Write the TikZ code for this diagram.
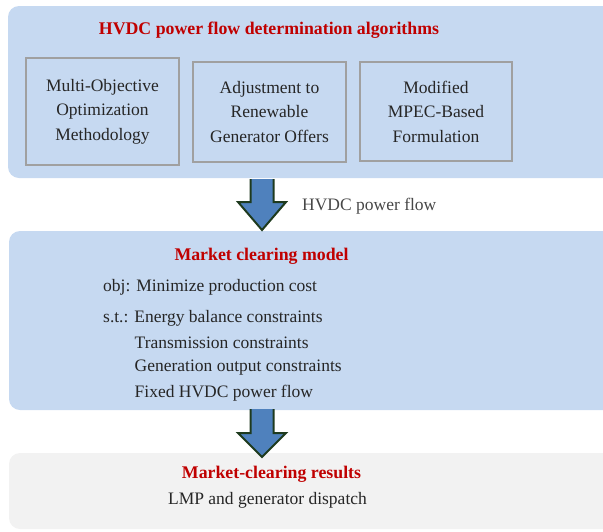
\documentclass[tikz,border=0pt]{standalone}
\usepackage{fontspec}
\setmainfont{Liberation Serif}
\usetikzlibrary{calc}
\definecolor{boxblue}{HTML}{C6D9F1}
\definecolor{boxgray}{HTML}{F2F2F2}
\definecolor{titlered}{HTML}{C00000}
\definecolor{txt}{HTML}{262626}
\definecolor{inborder}{HTML}{A0A0A0}
\definecolor{arrowfill}{HTML}{4F81BD}
\definecolor{arrowedge}{HTML}{1E3A1E}
\begin{document}
\begin{tikzpicture}[x=1pt,y=-1pt,
  panel/.style={rounded corners=11pt, draw=none},
  title/.style={font=\fontsize{17.8}{21}\selectfont\bfseries, text=titlered, inner sep=0pt},
  body/.style={font=\fontsize{17.5}{24.5}\selectfont, text=txt, inner sep=0pt},
  algbox/.style={draw=inborder, line width=2.6pt, fill=boxblue, align=center,
     font=\fontsize{17.5}{24.5}\selectfont, text=txt, inner sep=0pt},
  blockarrow/.style={fill=arrowfill, draw=arrowedge, line width=2pt, line join=miter}
]
\useasboundingbox (0,0) rectangle (603,531);
\clip (0,0) rectangle (603,531);
% panels
\fill[boxblue, panel] (8,6) rectangle (630,178);
\fill[boxblue, panel] (9,231) rectangle (630,410);
\fill[boxgray, panel] (9,453) rectangle (630,529);
\coordinate (p1) at (262,179);
\coordinate (p2top) at (262,230);
\coordinate (p2) at (262,409);
\coordinate (p3top) at (262,457);

% top panel
\node[title] (t1) at (269,30) {HVDC power flow determination algorithms};
\node[algbox, minimum width=153pt, minimum height=107pt] (a1) at (102.5,111.5)
  {Multi-Objective\\Optimization\\Methodology};
\node[algbox, minimum width=153pt, minimum height=100pt] (a2) at (269.5,112)
  {Adjustment to\\Renewable\\Generator Offers};
\node[algbox, minimum width=152pt, minimum height=99pt] (a3) at (436,111.5)
  {Modified\\MPEC-Based\\Formulation};

% arrow 1
\draw[blockarrow] ($(p1)+(-11.5,0)$) -- ($(p1)+(-11.5,23)$) -- ($(p1)+(-24,23)$)
  -- (p2top) -- ($(p1)+(24,23)$) -- ($(p1)+(11.5,23)$) -- ($(p1)+(11.5,0)$);
\node[body, anchor=west, text=txt!85] (lbl) at (302,206) {HVDC power flow};

% middle panel
\node[title] (t2) at (261.5,256) {Market clearing model};
\node[body, anchor=west] (obj) at (103,287) {obj: Minimize production cost};
\node[body, anchor=west] (st) at (103,318) {s.t.: Energy balance constraints};
\node[body, anchor=west] (c2) at (134.5,343) {Transmission constraints};
\node[body, anchor=west] (c3) at (134.5,368) {Generation output constraints};
\node[body, anchor=west] (c4) at (134.5,393) {Fixed HVDC power flow};

% arrow 2
\draw[blockarrow] ($(p2)+(-11.5,0)$) -- ($(p2)+(-11.5,24)$) -- ($(p2)+(-24,24)$)
  -- (p3top) -- ($(p2)+(24,24)$) -- ($(p2)+(11.5,24)$) -- ($(p2)+(11.5,0)$);

% bottom panel
\node[title] (t3) at (271.5,474) {Market-clearing results};
\node[body] (res) at (267.5,500) {LMP and generator dispatch};
\end{tikzpicture}
\end{document}
